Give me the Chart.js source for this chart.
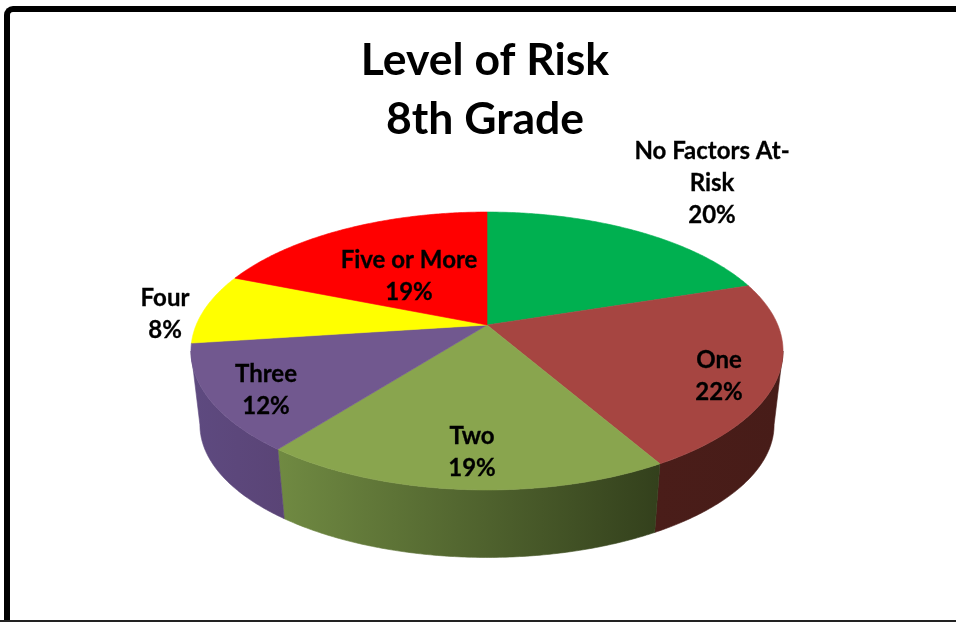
<!DOCTYPE html>
<html>
<head>
<meta charset="utf-8">
<script src="https://cdn.jsdelivr.net/npm/chart.js@4"></script>
<style>
html,body{margin:0;padding:0;background:#fff;overflow:hidden}
#wrap{position:relative;width:956px;height:622px}
canvas{display:block;position:absolute;left:0;top:0}
#frame{position:absolute;left:4px;top:6px;width:960px;height:620px;box-sizing:border-box;border-left:6px solid #000;border-top:6px solid #000;border-top-left-radius:9px}
#base{position:absolute;left:0;top:620px;width:956px;height:2px;background:#222}
</style>
</head>
<body>
<div id="wrap">
<canvas id="c" width="956" height="622"></canvas>
<div id="frame"></div><div id="base"></div>
</div>
<script>
const titleLines = ['Level of Risk', '8th Grade'];
const categories = ['No Factors At-Risk', 'One', 'Two', 'Three', 'Four', 'Five or More'];
const values = [20, 21.7, 18.8, 12.4, 8.2, 18.9];

const topColors = ['#00B050', '#A64541', '#89A54E', '#71588F', '#FFFF00', '#FF0000'];
const wallColors = [['#00702F','#00702F'], ['#4A1D19','#471C18'], ['#708A42','#33401C'], ['#5E4A80','#5A4476'], ['#A8A800','#A8A800'], ['#A00000','#A00000']];
const labelAnchors = [[712,151],[719,360],[472,436],[266,374],[165,298],[409,260]];
const LINE_GAP = 32;

// Perspective view of the pie disc
const view = {cx:487, R:290.8, persp:-0.187, topY:325, topK:134.1, botR:282, botY:400, botK:128};
const project = (t, cy, k, r) => {
  const d = 1 + view.persp * Math.sin(t);
  return [view.cx + r * Math.cos(t) / d, cy + k * Math.sin(t) / d];
};
const topPt = t => project(t, view.topY, view.topK, view.R);
const botPt = t => project(t, view.botY, view.botK, view.botR);
const sampleAngles = (a, b) => {
  const n = Math.max(4, Math.ceil((b - a) / 0.01));
  return Array.from({length:n+1}, (_, i) => a + (b - a) * i / n);
};
// The front of the rim lies between the two silhouette angles
const frontStart = Math.asin(-view.persp);
const frontEnd = Math.PI - frontStart;

const pie3d = {
  id:'pie3d',
  beforeDatasetsDraw(chart){
    const ctx = chart.ctx;
    const arcs = chart.getDatasetMeta(0).data;
    // visible side walls
    arcs.forEach((arc, i) => {
      const a = Math.max(arc.startAngle, frontStart), b = Math.min(arc.endAngle, frontEnd);
      if (a >= b) return;
      const ts = sampleAngles(a, b);
      const tp = ts.map(topPt), bp = ts.map(botPt).reverse();
      const xs = tp.concat(bp).map(p => p[0]);
      const g = ctx.createLinearGradient(Math.min(...xs), 0, Math.max(...xs), 0);
      g.addColorStop(0, wallColors[i][0]);
      g.addColorStop(1, wallColors[i][1]);
      ctx.beginPath();
      tp.concat(bp).forEach((p, j) => j ? ctx.lineTo(p[0], p[1]) : ctx.moveTo(p[0], p[1]));
      ctx.closePath();
      ctx.fillStyle = g; ctx.fill();
      ctx.strokeStyle = g; ctx.lineWidth = 0.6; ctx.stroke();
    });
    // top faces
    arcs.forEach((arc, i) => {
      ctx.beginPath();
      ctx.moveTo(view.cx, view.topY);
      sampleAngles(arc.startAngle, arc.endAngle).map(topPt).forEach(p => ctx.lineTo(p[0], p[1]));
      ctx.closePath();
      ctx.fillStyle = arc.options.backgroundColor; ctx.fill();
      ctx.strokeStyle = arc.options.backgroundColor; ctx.lineWidth = 0.6; ctx.stroke();
    });
    return false;
  },
  afterDraw(chart){
    const ctx = chart.ctx;
    ctx.save();
    ctx.font = 'bold 24px Lato';
    ctx.fillStyle = '#000';
    ctx.strokeStyle = '#000';
    ctx.lineWidth = 0.3;
    ctx.textAlign = 'center';
    ctx.textBaseline = 'middle';
    categories.forEach((cat, i) => {
      const lines = cat.split(/(?<=At-)/).concat(Math.round(values[i]) + '%');
      lines.forEach((s, j) => {
        ctx.fillText(s, labelAnchors[i][0], labelAnchors[i][1] + j * LINE_GAP);
        ctx.strokeText(s, labelAnchors[i][0], labelAnchors[i][1] + j * LINE_GAP);
      });
    });
    ctx.restore();
  }
};

new Chart(document.getElementById('c'), {
  type:'pie',
  data:{labels:categories, datasets:[{data:values, backgroundColor:topColors, borderWidth:0}]},
  options:{
    responsive:false,
    animation:false,
    layout:{padding:{left:14}},
    plugins:{
      legend:{display:false},
      tooltip:{enabled:false},
      title:{display:true, text:titleLines, color:'#000', font:{family:'Lato', size:44.5, weight:'bold', lineHeight:1.31}, padding:{top:32,bottom:0}}
    }
  },
  plugins:[pie3d]
});
</script>
</body>
</html>
